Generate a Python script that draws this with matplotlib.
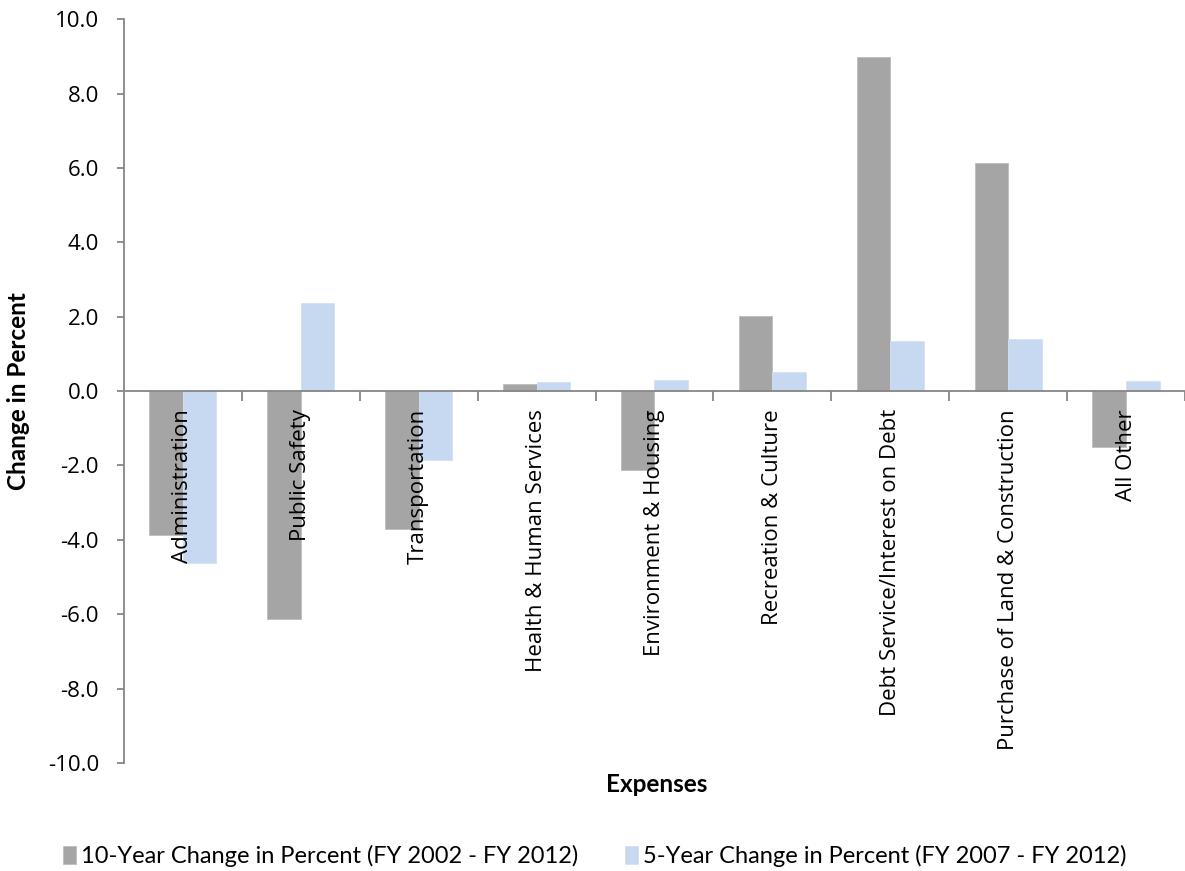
import matplotlib.pyplot as plt
import numpy as np

categories = ['Administration', 'Public Safety', 'Transportation', 'Health & Human Services',
              'Environment & Housing', 'Recreation & Culture', 'Debt Service/Interest on Debt',
              'Purchase of Land & Construction', 'All Other']
ten_year = [-3.87, -6.12, -3.70, 0.18, -2.12, 2.01, 8.98, 6.13, -1.51]
five_year = [-4.62, 2.37, -1.85, 0.25, 0.29, 0.52, 1.34, 1.40, 0.28]
series_names = ['10-Year Change in Percent (FY 2002 - FY 2012)',
                '5-Year Change in Percent (FY 2007 - FY 2012)']
yticks = np.arange(-10, 10.1, 2)

TICK_FONT = ['Open Sans', 'Noto Sans', 'DejaVu Sans']
LABEL_FONT = ['Lato', 'DejaVu Sans']


def plot_chart():
    fig = plt.figure(figsize=(11.85, 8.71), dpi=100)
    ax = fig.add_axes([0.1046, 0.124, 0.8954, 0.854])

    x = np.arange(len(categories))
    w = 0.285
    ax.bar(x - w / 2, ten_year, width=w, color='#A5A5A5', edgecolor='#BDBDBD', linewidth=0.6,
           label=series_names[0], zorder=2)
    ax.bar(x + w / 2, five_year, width=w, color='#C6D9F1', edgecolor='#D3E1F4', linewidth=0.6,
           label=series_names[1], zorder=2)

    ax.set_xlim(-0.5, len(categories) - 0.5)
    ax.set_ylim(-10, 10)
    ax.set_axisbelow(False)  # category labels sit on top of the bars

    axis_col = '#868686'
    for s in ['top', 'right']:
        ax.spines[s].set_visible(False)
    for s in ['left', 'bottom']:
        ax.spines[s].set_color(axis_col)
        ax.spines[s].set_linewidth(1.3)
    ax.spines['bottom'].set_position(('data', 0))
    ax.spines['bottom'].set_zorder(3)

    ax.set_yticks(yticks)
    ax.set_yticklabels([f'{v:.1f}' for v in yticks], family=TICK_FONT, fontsize=16)
    ax.tick_params(axis='y', direction='out', length=5, width=1.3, color=axis_col, pad=13)

    # boundary ticks (major) and centred labels (minor)
    ax.set_xticks(np.arange(0.5, len(categories), 1.0))
    ax.set_xticklabels([])
    ax.tick_params(axis='x', which='major', direction='out', length=7, width=1.3, color=axis_col)
    ax.set_xticks(x, minor=True)
    ax.set_xticklabels(categories, minor=True, rotation=90, va='top', ha='center',
                       family=TICK_FONT, fontsize=16)
    ax.tick_params(axis='x', which='minor', length=0, pad=13)

    ax.set_ylabel('Change in Percent', family=LABEL_FONT, fontweight='bold', fontsize=17.5)
    ax.yaxis.set_label_coords(-0.089, 0.5)
    fig.text(0.554, 0.099, 'Expenses', family=LABEL_FONT, fontweight='bold', fontsize=17.5,
             ha='center', va='center')

    fig.legend(loc='center', bbox_to_anchor=(0.502, 0.017), ncol=2, frameon=False,
               prop={'family': LABEL_FONT, 'size': 17}, handlelength=0.55, handleheight=0.75,
               handletextpad=0.2, columnspacing=2.0)

    fig.savefig('out.png', dpi=100)


if __name__ == '__main__':
    plot_chart()
